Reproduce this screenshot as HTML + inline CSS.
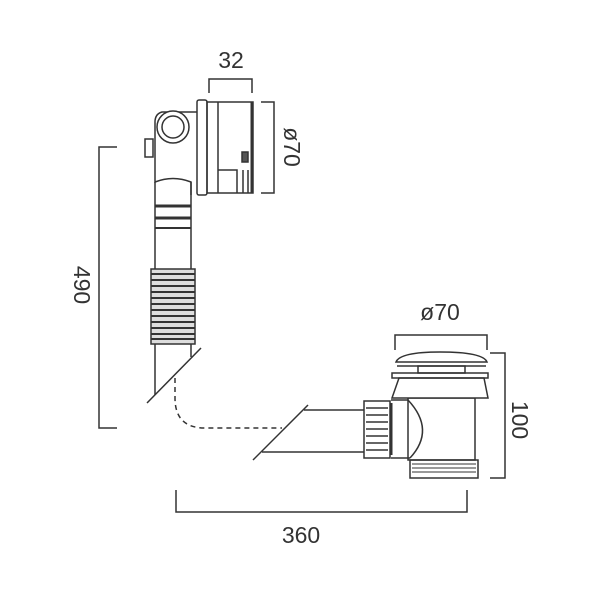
<!DOCTYPE html>
<html><head><style>html,body{margin:0;padding:0;background:#fff}svg{display:block}
text{font-family:"Liberation Sans Narrow","Liberation Sans",sans-serif;font-size:23px;fill:#333}</style></head>
<body>
<svg width="600" height="600" viewBox="0 0 600 600" fill="none" stroke="#333" stroke-width="1.5">
<!-- dimension 32 -->
<text x="231" y="68" text-anchor="middle" stroke="none">32</text>
<path d="M209 93V79H252V93"/>
<!-- ø70 right -->
<path d="M261 102H274V193H261"/>
<text transform="translate(284,147) rotate(90)" text-anchor="middle" stroke="none">ø70</text>
<!-- 490 -->
<path d="M117 147H99V428H117"/>
<text transform="translate(74,285) rotate(90)" text-anchor="middle" stroke="none">490</text>
<!-- overflow head -->
<rect x="197" y="100" width="10" height="95" rx="2"/>
<rect x="207" y="102" width="46" height="91"/>
<line x1="218" y1="102" x2="218" y2="193"/>
<path d="M218 170H237V193M243 170V193M248 170V193"/>
<line x1="252" y1="102" x2="252" y2="193" stroke-width="3"/>
<rect x="242" y="152" width="6" height="10" fill="#555"/>
<!-- elbow body -->
<path d="M197 112H162Q155 114 155 122V182Q173 175 191 182V195"/>
<circle cx="173" cy="127" r="16" fill="#fff"/>
<circle cx="173" cy="127" r="11"/>
<rect x="145" y="139" width="8" height="18"/>
<path d="M155 182V269M191 182V269"/>
<line x1="155" y1="206" x2="191" y2="206" stroke-width="3"/>
<line x1="155" y1="218" x2="191" y2="218" stroke-width="3"/>
<line x1="155" y1="228" x2="191" y2="228" stroke-width="2"/>
<!-- bellows -->
<rect x="151" y="269" width="44" height="75" fill="#ddd"/>
<path d="M151 274H195M151 280H195M151 286H195M151 292H195M151 298H195M151 304H195M151 310H195M151 316H195M151 322H195M151 328H195M151 334H195M151 339H195" stroke-width="2"/>
<path d="M155 344V395M191 344V357"/>
<line x1="147" y1="403" x2="201" y2="348"/>
<!-- dashed -->
<path d="M175 378V398Q175 428 205 428H282" stroke-dasharray="5 4"/>
<line x1="253" y1="460" x2="308" y2="405"/>
<path d="M304 410H366M262 452H366"/>
<!-- nut -->
<rect x="364" y="401" width="26" height="57" fill="#fff"/>
<path d="M366 408H388M366 415H388M366 422H388M366 429H388M366 436H388M366 443H388M366 450H388"/>
<line x1="391" y1="403" x2="391" y2="455" stroke-width="3"/>
<!-- body -->
<path d="M391 400H408M391 458H410"/>
<rect x="408" y="398" width="67" height="62"/>
<path d="M408 400Q436 430 410 458"/>
<rect x="410" y="460" width="68" height="18"/>
<path d="M412 464H476M412 468H476M412 472H476" stroke-width="1"/>
<!-- cone + cap -->
<path d="M392 398L399 378H484L488 398Z" fill="#fff"/>
<rect x="392" y="373" width="96" height="5"/>
<rect x="418" y="366" width="47" height="7"/>
<path d="M396 362Q400 352 440 352Q483 352 487 362Z"/>
<line x1="397" y1="366" x2="486" y2="366"/>
<!-- ø70 drain -->
<text x="440" y="320" text-anchor="middle" stroke="none">ø70</text>
<path d="M395 350V335H487V350"/>
<!-- 100 -->
<path d="M490 353H505V478H490"/>
<text transform="translate(512,420) rotate(90)" text-anchor="middle" stroke="none">100</text>
<!-- 360 -->
<path d="M176 490V512H467V490"/>
<text x="301" y="543" text-anchor="middle" stroke="none">360</text>
</svg>
</body></html>
